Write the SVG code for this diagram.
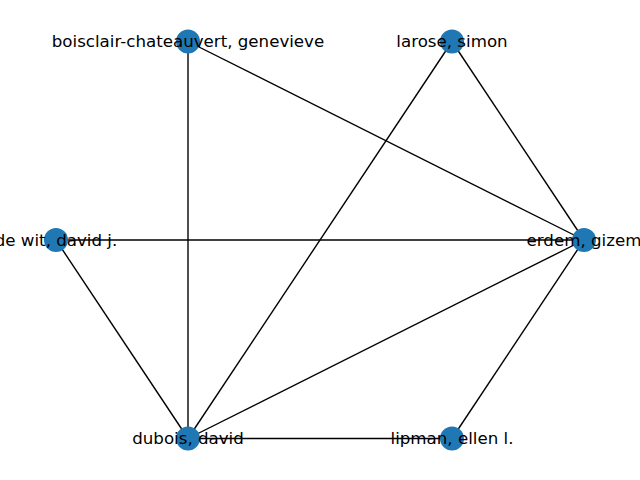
<svg xmlns="http://www.w3.org/2000/svg" width="640" height="480" viewBox="0 0 640 480">
<style>
.e{stroke:#000;stroke-width:1.39;fill:none}
.n{fill:#1f77b4}
.t{font-family:"DejaVu Sans",sans-serif;font-size:16.67px;fill:#000;text-anchor:middle;dominant-baseline:central}
</style>
<rect width="640" height="480" fill="#fff"/>
<g id="edges">
<line class="e" x1="188" y1="41.5" x2="584" y2="240"/>
<line class="e" x1="188" y1="41.5" x2="188" y2="438.5"/>
<line class="e" x1="452" y1="41.5" x2="584" y2="240"/>
<line class="e" x1="452" y1="41.5" x2="188" y2="438.5"/>
<line class="e" x1="56" y1="240" x2="584" y2="240"/>
<line class="e" x1="56" y1="240" x2="188" y2="438.5"/>
<line class="e" x1="188" y1="438.5" x2="584" y2="240"/>
<line class="e" x1="188" y1="438.5" x2="452" y2="438.5"/>
<line class="e" x1="452" y1="438.5" x2="584" y2="240"/>
</g>
<g id="n-boisclair"><circle class="n" cx="188" cy="41.5" r="12"/><text class="t" x="188" y="41.5">boisclair-chateauvert, genevieve</text></g>
<g id="n-larose"><circle class="n" cx="452" cy="41.5" r="12"/><text class="t" x="452" y="41.5">larose, simon</text></g>
<g id="n-dewit"><circle class="n" cx="56" cy="240" r="12"/><text class="t" x="56" y="240">de wit, david j.</text></g>
<g id="n-erdem"><circle class="n" cx="584" cy="240" r="12"/><text class="t" x="584" y="240">erdem, gizem</text></g>
<g id="n-dubois"><circle class="n" cx="188" cy="438.5" r="12"/><text class="t" x="188" y="438.5">dubois, david</text></g>
<g id="n-lipman"><circle class="n" cx="452" cy="438.5" r="12"/><text class="t" x="452" y="438.5">lipman, ellen l.</text></g>
</svg>
